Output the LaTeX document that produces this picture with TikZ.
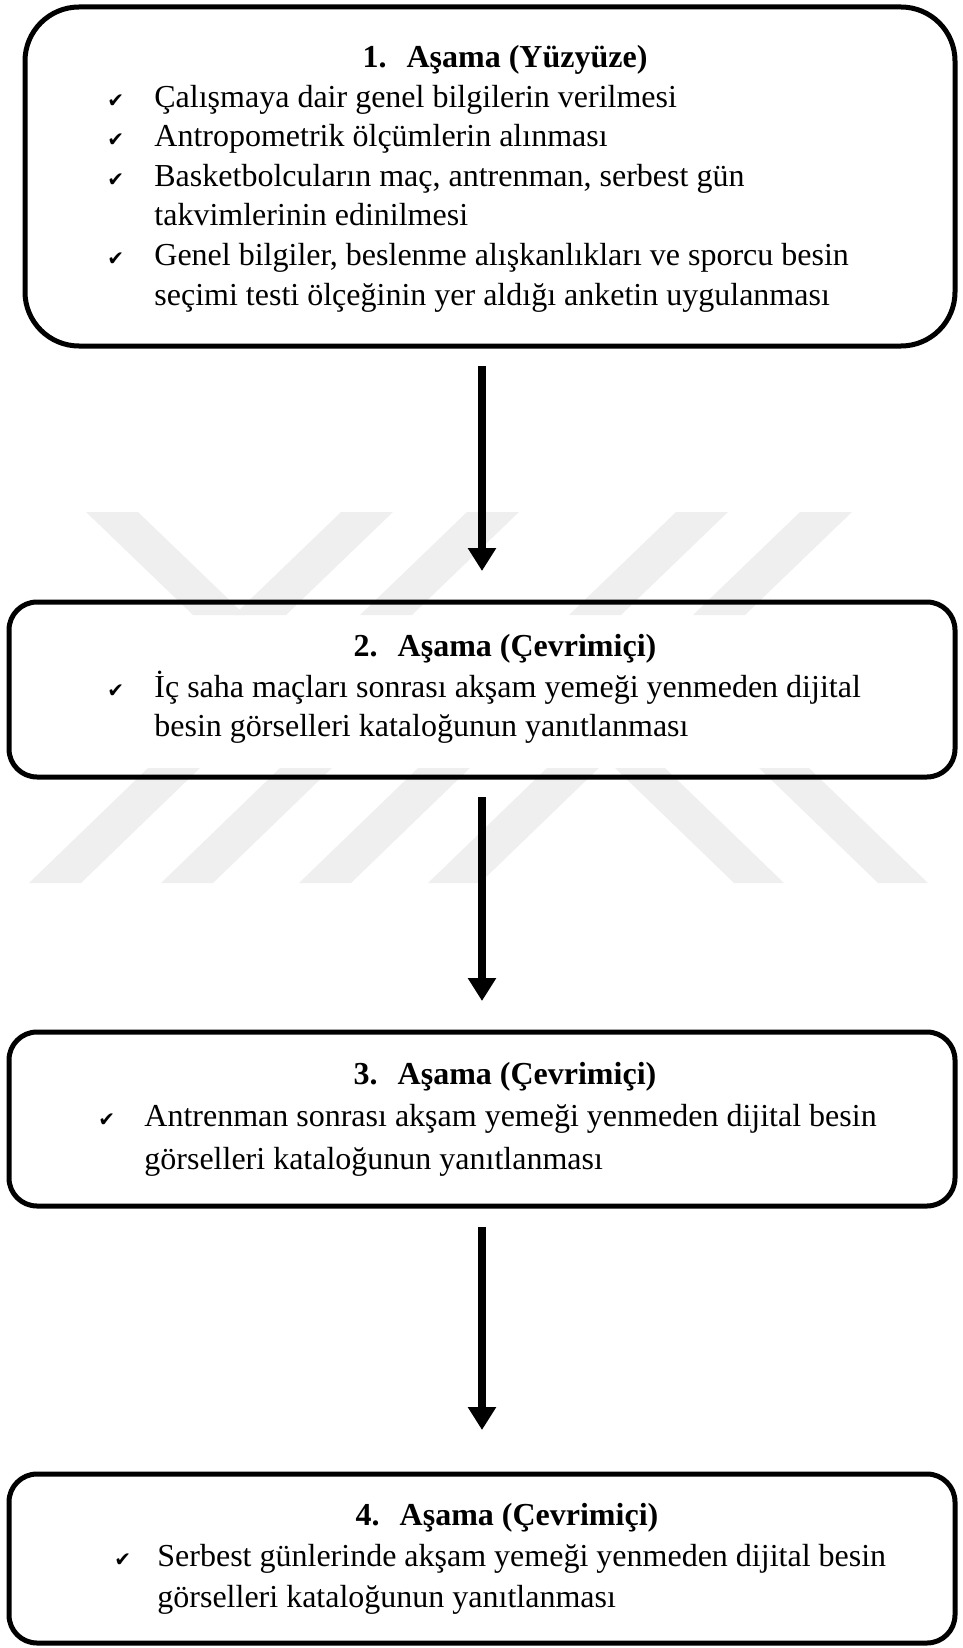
\documentclass[tikz,border=0pt]{standalone}
\usepackage{fontspec}
\setmainfont{Liberation Serif}
\newfontfamily\checkfont{DejaVu Sans}
\usepackage{tikz}
\usetikzlibrary{arrows.meta,positioning}
\definecolor{wmgray}{RGB}{239,239,239}

\tikzset{
  stagebox/.style={draw=black, line width=2.5pt, rounded corners=14pt, inner sep=0pt, outer sep=0pt},
  titletext/.style={anchor=base, inner sep=0pt, font=\fontsize{16}{19.75}\selectfont\bfseries},
  itemtext/.style={anchor=base west, inner sep=0pt, font=\fontsize{16}{19.75}\selectfont},
  checkmark/.style={anchor=base west, inner sep=0pt, font=\checkfont\fontsize{10}{12}\selectfont},
  flowarrow/.style={line width=4pt, -{Triangle[width=13.5pt,length=11.5pt]}},
}

\begin{document}
\begin{tikzpicture}[x=0.5pt,y=-0.5pt]
\useasboundingbox (0,0) rectangle (963,1648);

% watermark stripes
\foreach \xt in {86} \fill[wmgray] (\xt,512) -- ++(52,0) -- ++(107,103) -- ++(-52,0) -- cycle;
\foreach \xt in {341,467,676,800} \fill[wmgray] (\xt,512) -- ++(52,0) -- ++(-107,103) -- ++(-52,0) -- cycle;
\foreach \xt in {148,280,418,547} \fill[wmgray] (\xt,768) -- ++(52,0) -- ++(-119,115) -- ++(-52,0) -- cycle;
\foreach \xt in {615,759} \fill[wmgray] (\xt,768) -- ++(50,0) -- ++(119,115) -- ++(-50,0) -- cycle;

% stage boxes
\node[stagebox, rounded corners=27pt, minimum width=465pt, minimum height=169.5pt] (s1) at (490,176.5) {};
\node[stagebox, minimum width=473pt, minimum height=87.5pt] (s2) at (482,689.5) {};
\node[stagebox, minimum width=473pt, minimum height=87pt] (s3) at (482,1119) {};
\node[stagebox, minimum width=473pt, minimum height=84.5pt] (s4) at (482,1558.5) {};

% 1. stage
\node[titletext] (t1) at (505,68) {1.\hspace{10pt}Aşama (Yüzyüze)};
\node[checkmark] (c1a) at (107,107.5) {✔};
\node[itemtext] (l1a) at (154,107.5) {Çalışmaya dair genel bilgilerin verilmesi};
\node[checkmark] (c1b) at (107,147) {✔};
\node[itemtext] (l1b) at (154,147) {Antropometrik ölçümlerin alınması};
\node[checkmark] (c1c) at (107,186.5) {✔};
\node[itemtext] (l1c) at (154,186.5) {Basketbolcuların maç, antrenman, serbest gün};
\node[itemtext] (l1d) at (154,226) {takvimlerinin edinilmesi};
\node[checkmark] (c1d) at (107,265.5) {✔};
\node[itemtext] (l1e) at (154,265.5) {Genel bilgiler, beslenme alışkanlıkları ve sporcu besin};
\node[itemtext] (l1f) at (154,305) {seçimi testi ölçeğinin yer aldığı anketin uygulanması};

% 2. stage
\node[titletext] (t2) at (505,656) {2.\hspace{10pt}Aşama (Çevrimiçi)};
\node[checkmark] (c2) at (107,697) {✔};
\node[itemtext] (l2a) at (154,697) {İç saha maçları sonrası akşam yemeği yenmeden dijital};
\node[itemtext] (l2b) at (154,736) {besin görselleri kataloğunun yanıtlanması};

% 3. stage
\node[titletext] (t3) at (505,1084) {3.\hspace{10pt}Aşama (Çevrimiçi)};
\node[checkmark] (c3) at (98,1126) {✔};
\node[itemtext] (l3a) at (144,1126) {Antrenman sonrası akşam yemeği yenmeden dijital besin};
\node[itemtext] (l3b) at (144,1169) {görselleri kataloğunun yanıtlanması};

% 4. stage
\node[titletext] (t4) at (507,1525) {4.\hspace{10pt}Aşama (Çevrimiçi)};
\node[checkmark] (c4) at (114,1566) {✔};
\node[itemtext] (l4a) at (157,1566) {Serbest günlerinde akşam yemeği yenmeden dijital besin};
\node[itemtext] (l4b) at (157,1607) {görselleri kataloğunun yanıtlanması};

% arrows
\draw[flowarrow, shorten <=10pt, shorten >=15.5pt] (s2.north |- s1.south) -- (s2.north);
\draw[flowarrow, shorten <=10pt, shorten >=15.5pt] (s2.south) -- (s3.north);
\draw[flowarrow, shorten <=10.5pt, shorten >=22pt] (s3.south) -- (s4.north);

\end{tikzpicture}
\end{document}
